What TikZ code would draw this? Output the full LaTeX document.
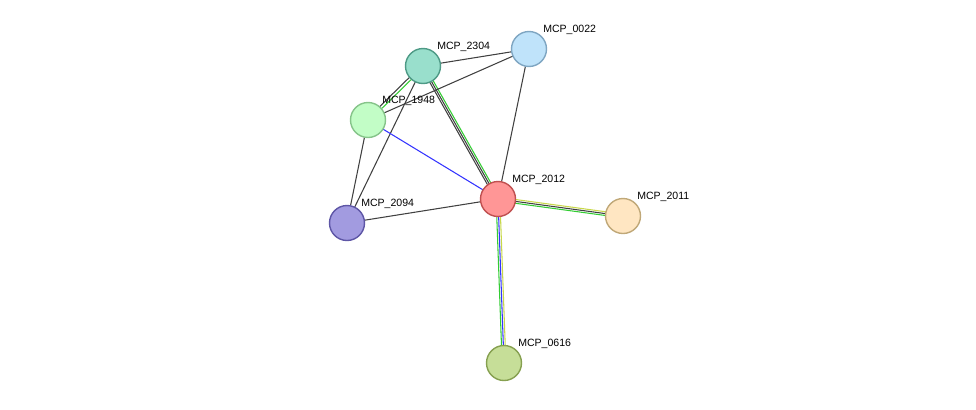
\documentclass[tikz,border=0pt]{standalone}
\usepackage{fontspec}
\setmainfont{Liberation Sans}
\usetikzlibrary{calc}
\definecolor{eblack}{HTML}{404040}
\definecolor{egreen}{HTML}{33CC33}
\definecolor{eblue}{HTML}{3333FF}
\definecolor{eyellow}{HTML}{C8D84A}
\newcommand{\edge}[4]{\draw[#4] ($(#1)!#3!90:(#2)$) -- ($(#2)!#3!-90:(#1)$);}
\begin{document}
\begin{tikzpicture}[x=0.03cm,y=-0.03cm]
	\tikzstyle{every node}=[font=\fontsize{9}{11}\selectfont]
	\tikzstyle{prot}=[circle, line width=1.2pt, minimum size=1.05cm, inner sep=0pt]
	\tikzstyle{lbl}=[label={[anchor=south west,inner sep=1pt]north east:#1}]
	\useasboundingbox (0,0) rectangle (976,409);
	
	\coordinate (c2304) at (423,66);
	\coordinate (c0022) at (529,49);
	\coordinate (c1948) at (368,120);
	\coordinate (c2012) at (498,199);
	\coordinate (c2094) at (347,223);
	\coordinate (c2011) at (623,216);
	\coordinate (c0616) at (504,363);
	
	\begin{scope}[line width=0.9pt]
	\edge{c2304}{c0022}{0pt}{eblack}
	\edge{c2304}{c1948}{1.2pt}{egreen}
	\edge{c2304}{c1948}{-1.2pt}{eblack}
	\edge{c2304}{c2094}{0pt}{eblack}
	\edge{c2304}{c2012}{1.4pt}{egreen}
	\edge{c2304}{c2012}{-0.2pt}{eblack}
	\edge{c2304}{c2012}{-1.8pt}{eblack}
	\edge{c0022}{c1948}{0pt}{eblack}
	\edge{c0022}{c2012}{0pt}{eblack}
	\edge{c1948}{c2012}{0pt}{eblue}
	\edge{c1948}{c2094}{0pt}{eblack}
	\edge{c2094}{c2012}{0pt}{eblack}
	\edge{c2012}{c2011}{1.6pt}{eyellow}
	\edge{c2012}{c2011}{0pt}{eblack}
	\edge{c2012}{c2011}{-1.6pt}{egreen}
	\edge{c2012}{c0616}{1.6pt}{eyellow}
	\edge{c2012}{c0616}{0pt}{eblue}
	\edge{c2012}{c0616}{-1.6pt}{egreen}
	\end{scope}
	
	\node[prot, draw={rgb,255:red,78;green,154;blue,134}, fill={rgb,255:red,153;green,223;blue,204}, lbl=MCP\_2304] (n2304) at (c2304) {};
	\node[prot, draw={rgb,255:red,127;green,166;blue,194}, fill={rgb,255:red,191;green,227;blue,250}, lbl=MCP\_0022] (n0022) at (c0022) {};
	\node[prot, draw={rgb,255:red,134;green,196;blue,138}, fill={rgb,255:red,194;green,253;blue,198}, lbl=MCP\_1948] (n1948) at (c1948) {};
	\node[prot, draw={rgb,255:red,192;green,80;blue,80}, fill={rgb,255:red,255;green,150;blue,150}, lbl=MCP\_2012] (n2012) at (c2012) {};
	\node[prot, draw={rgb,255:red,94;green,86;blue,166}, fill={rgb,255:red,162;green,155;blue,224}, lbl=MCP\_2094] (n2094) at (c2094) {};
	\node[prot, draw={rgb,255:red,192;green,168;blue,120}, fill={rgb,255:red,255;green,230;blue,194}, lbl=MCP\_2011] (n2011) at (c2011) {};
	\node[prot, draw={rgb,255:red,134;green,160;blue,80}, fill={rgb,255:red,198;green,222;blue,152}, lbl=MCP\_0616] (n0616) at (c0616) {};
\end{tikzpicture}
\end{document}
